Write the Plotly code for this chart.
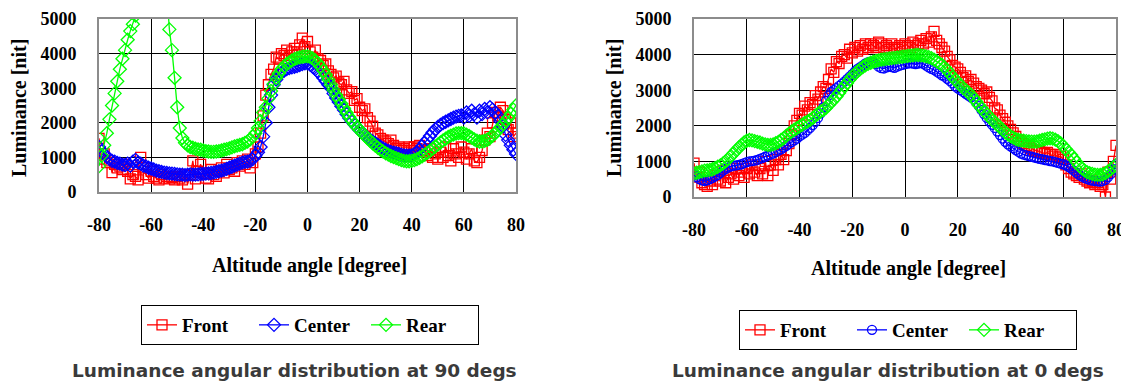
import plotly.graph_objects as go

# ---------------- data ----------------
ANGLES = list(range(-80, 81))
X_TICKS = [-80, -60, -40, -20, 0, 20, 40, 60, 80]
X_TICK_TEXT = ["-80", "-60", "-40", "-20", "0", "20", "40", "60", "80"]
Y_TICKS = [0, 1000, 2000, 3000, 4000, 5000]
SERIES = ["Front", "Center", "Rear"]
TITLES = ["Luminance angular distribution at 90 degs",
          "Luminance angular distribution at 0 degs"]
X_TITLE = "Altitude angle [degree]"
Y_TITLE = "Luminance [nit]"

FRONT_90 = [
    1550, 950, 1100, 850, 900, 560, 800, 700, 750, 650,
    800, 600, 380, 500, 450, 350, 1000, 700, 500, 400,
    600, 450, 400, 350, 500, 400, 450, 380, 420, 350,
    450, 400, 350, 500, 230, 480, 900, 380, 600, 800,
    550, 400, 380, 650, 500, 450, 600, 700, 550, 800,
    650, 700, 600, 850, 750, 900, 800, 950, 700, 850,
    1100, 1300, 1700, 2200, 2800, 3100, 3400, 3550, 3900, 3850,
    4000, 3950, 4100, 3950, 4050, 4150, 4050, 4250, 4450, 4200,
    4350, 4050, 3900, 4100, 3850, 3800, 3650, 3700, 3500, 3400,
    3300, 3350, 3150, 3100, 3200, 2950, 2850, 2900, 2650, 2700,
    2450, 2350, 2400, 2150, 2050, 1900, 1700, 1650, 1550, 1500,
    1450, 1400, 1500, 1350, 1250, 1300, 1200, 1250, 1150, 1300,
    1200, 1300, 1250, 1350, 1150, 1200, 1050, 1250, 1000, 1100,
    950, 1150, 1000, 1300, 1050, 900, 1250, 1100, 1000, 1300,
    1150, 950, 1100, 1250, 900, 850, 1000, 1200, 1500, 1700,
    1600, 2000, 2300, 2200, 2450, 2350, 2100, 1800, 2000, 1600,
    1700,
]
CENTER_90 = [
    1300, 1180, 1100, 1020, 950, 900, 880, 840, 820, 790,
    780, 820, 760, 880, 930, 850, 820, 760, 740, 700,
    680, 650, 620, 600, 580, 560, 550, 540, 530, 520,
    510, 500, 500, 490, 500, 510, 500, 500, 510, 520,
    520, 530, 540, 550, 560, 580, 600, 620, 640, 670,
    700, 730, 760, 790, 820, 850, 870, 880, 900, 950,
    1050, 1150, 1300, 1600, 2000, 2450, 2800, 3100, 3250, 3380,
    3450, 3500, 3550, 3580, 3600, 3620, 3640, 3670, 3700, 3720,
    3720, 3680, 3620, 3550, 3480, 3400, 3300, 3200, 3100, 3000,
    2850, 2720, 2600, 2480, 2370, 2250, 2140, 2040, 1950, 1870,
    1790, 1710, 1640, 1570, 1510, 1460, 1410, 1360, 1310, 1260,
    1220, 1190, 1160, 1140, 1120, 1100, 1080, 1060, 1050, 1050,
    1060, 1090, 1150, 1230, 1320, 1420, 1520, 1620, 1720, 1810,
    1880, 1940, 1990, 2030, 2070, 2110, 2150, 2180, 2200, 2210,
    2150, 2300, 2200, 2350, 2250, 2150, 2350, 2250, 2400, 2300,
    2450, 2380, 2300, 2200, 2050, 1900, 1650, 1500, 1350, 1220,
    1100,
]
REAR_90 = [
    750, 1050, 1350, 1700, 2100, 2500, 2850, 3200, 3550, 3850,
    4100, 4400, 4650, 4850, 5100, 6000, 7000, 8000, 9000, 9800,
    10300, 10500, 10000, 9000, 8000, 7000, 5800, 4700, 4100, 3300,
    2450, 1850, 1560, 1420, 1350, 1300, 1280, 1250, 1230, 1220,
    1200, 1180, 1170, 1160, 1160, 1170, 1180, 1200, 1220, 1240,
    1260, 1290, 1320, 1340, 1360, 1380, 1420, 1460, 1520, 1600,
    1700, 1850, 2050, 2300, 2450, 2700, 2920, 3120, 3300, 3430,
    3550, 3630, 3700, 3750, 3800, 3840, 3870, 3890, 3910, 3920,
    3920, 3900, 3860, 3800, 3720, 3620, 3510, 3390, 3250, 3100,
    2950, 2800, 2680, 2550, 2420, 2290, 2170, 2060, 1960, 1870,
    1790, 1710, 1630, 1550, 1480, 1410, 1340, 1280, 1220, 1170,
    1120, 1080, 1040, 1010, 980, 950, 920, 900, 890, 890,
    900, 920, 950, 990, 1030, 1080, 1130, 1190, 1250, 1310,
    1370, 1430, 1490, 1540, 1590, 1630, 1660, 1690, 1700, 1700,
    1690, 1660, 1620, 1570, 1520, 1480, 1460, 1460, 1480, 1510,
    1560, 1620, 1700, 1780, 1870, 1960, 2050, 2140, 2260, 2380,
    2500,
]

FRONT_0 = [
    950, 560, 700, 400, 350, 300, 450, 350, 600, 500,
    450, 750, 400, 550, 650, 500, 800, 600, 700, 550,
    800, 650, 900, 700, 600, 800, 650, 1000, 600, 900,
    750, 1050, 900, 1200, 1050, 1300, 1500, 1750, 2000, 2150,
    2350, 2300, 2550, 2450, 2650, 2600, 2850, 2750, 2950, 3100,
    3050, 3300, 3600, 3500, 3800, 3750, 3950, 4000, 3900, 4150,
    4050, 4200, 4100, 4250, 4150, 4300, 4200, 4300, 4250, 4200,
    4350, 4300, 4200, 4250, 4150, 4300, 4200, 4150, 4250, 4200,
    4300, 4250, 4200, 4350, 4250, 4300, 4400, 4300, 4450, 4350,
    4500, 4650, 4400, 4300, 4200, 4100, 3950, 3850, 3700, 3650,
    3600, 3500, 3350, 3400, 3250, 3300, 3200, 3100, 3050, 3000,
    2900, 2950, 2800, 2700, 2500, 2450, 2300, 2200, 2100, 2000,
    1900, 1800, 1700, 1600, 1550, 1500, 1450, 1400, 1350, 1320,
    1300, 1280, 1250, 1220, 1250, 1200, 1150, 1200, 1100, 1150,
    1050, 900, 800, 700, 650, 600, 550, 650, 500, 450,
    400, 450, 350, 400, 300, 350, 0, 700, 500, 1000,
    1450,
]
CENTER_0 = [
    620, 560, 500, 470, 450, 470, 500, 540, 580, 620,
    680, 740, 790, 830, 860, 880, 890, 900, 920, 950,
    980, 1000, 1010, 1020, 1040, 1070, 1100, 1130, 1160, 1190,
    1220, 1260, 1300, 1340, 1390, 1440, 1490, 1540, 1590, 1640,
    1700, 1750, 1800, 1870, 1940, 2020, 2110, 2220, 2350, 2520,
    2700, 2850, 2950, 3000, 3060, 3120, 3180, 3240, 3310, 3380,
    3450, 3530, 3600, 3650, 3700, 3750, 3790, 3800, 3780, 3730,
    3660, 3620, 3610, 3640, 3670, 3650, 3630, 3660, 3690, 3710,
    3730, 3750, 3760, 3750, 3730, 3750, 3770, 3740, 3690, 3640,
    3600, 3570, 3520, 3470, 3420, 3380, 3320, 3260, 3190, 3110,
    3050, 3000, 2950, 2900, 2850, 2800, 2750, 2650, 2550, 2440,
    2330, 2220, 2120, 2030, 1940, 1840, 1740, 1640, 1550, 1480,
    1420, 1370, 1320, 1270, 1220, 1190, 1170, 1150, 1130, 1110,
    1090, 1070, 1060, 1040, 1030, 1010, 1000, 980, 960, 940,
    920, 890, 850, 800, 740, 680, 620, 580, 540, 510,
    480, 460, 450, 440, 430, 450, 480, 560, 640, 780,
    920,
]
REAR_0 = [
    665, 680, 700, 720, 740, 750, 760, 780, 810, 850,
    890, 940, 1000, 1070, 1150, 1230, 1310, 1390, 1460, 1530,
    1580, 1600, 1590, 1570, 1550, 1530, 1500, 1480, 1460, 1460,
    1480, 1510, 1550, 1600, 1650, 1720, 1780, 1840, 1890, 1930,
    1980, 2030, 2080, 2120, 2160, 2220, 2280, 2340, 2400, 2440,
    2500, 2580, 2660, 2740, 2820, 2920, 3020, 3110, 3200, 3300,
    3390, 3460, 3530, 3590, 3650, 3700, 3740, 3770, 3800, 3820,
    3840, 3860, 3870, 3880, 3890, 3900, 3910, 3920, 3930, 3940,
    3950, 3960, 3970, 3980, 3990, 3990, 3980, 3970, 3950, 3930,
    3900, 3860, 3810, 3760, 3710, 3640, 3560, 3470, 3380, 3300,
    3220, 3140, 3070, 3000, 2940, 2870, 2780, 2680, 2580, 2500,
    2410, 2330, 2250, 2170, 2100, 2030, 1960, 1890, 1820, 1760,
    1710, 1670, 1630, 1600, 1590, 1580, 1570, 1560, 1555, 1555,
    1560, 1580, 1600, 1620, 1640, 1650, 1640, 1610, 1570, 1510,
    1430, 1340, 1260, 1180, 1080, 980, 880, 810, 750, 700,
    670, 650, 630, 620, 620, 640, 670, 720, 780, 840,
    900,
]

# ---------------- styling ----------------
# The page body has an 8px default margin, so the figure is drawn 8px in
# from the window's top-left corner; screen positions are shifted by OFF.
SCREEN_W, SCREEN_H = 1129, 383
OFF = 8
W, H = SCREEN_W - OFF, SCREEN_H - OFF
COLORS = ["#FF0000", "#0000FF", "#00FF00"]
SERIF = "Liberation Serif"
SANS = "DejaVu Sans"


def fx(px):
    return (px - OFF) / W


def fy(py):
    return 1 - (py - OFF) / H


panels = [
    dict(data=[FRONT_90, CENTER_90, REAR_90],
         symbols=["square-open", "diamond-open", "diamond-open"],
         sizes=[10, 10, 10],
         px=(99, 516), py=(19, 192), xa="x", ya="y", legend="legend"),
    dict(data=[FRONT_0, CENTER_0, REAR_0],
         symbols=["square-open", "circle-open", "diamond-open"],
         sizes=[10, 9, 10],
         px=(694, 1116), py=(19, 197), xa="x2", ya="y2", legend="legend2"),
]

fig = go.Figure()
for p in panels:
    for name, vals, col, sym, sz in zip(SERIES, p["data"], COLORS, p["symbols"], p["sizes"]):
        fig.add_trace(go.Scatter(
            x=ANGLES, y=vals, name=name, mode="lines+markers",
            line=dict(color=col, width=1.3),
            marker=dict(symbol=sym, size=sz, color=col, line=dict(color=col, width=1.3)),
            xaxis=p["xa"], yaxis=p["ya"], legend=p["legend"], cliponaxis=True,
        ))

axis_common = dict(showgrid=True, gridcolor="#000000", gridwidth=1,
                   showline=True, mirror=True, linecolor="#8c8c8c", linewidth=2,
                   zeroline=False, ticks="", automargin=False,
                   tickfont=dict(family=SERIF, size=18, color="black", weight="bold"))

layout = dict(width=W, height=H, margin=dict(l=0, r=0, t=0, b=0, autoexpand=False),
              paper_bgcolor="white", plot_bgcolor="white", annotations=[])

for i, p in enumerate(panels):
    sfx = "" if i == 0 else "2"
    layout["xaxis" + sfx] = dict(axis_common, domain=[fx(p["px"][0]), fx(p["px"][1])],
                                 anchor="y" + sfx, range=[-80, 80], tickvals=X_TICKS,
                                 ticktext=X_TICK_TEXT, ticklabelstandoff=15)
    layout["yaxis" + sfx] = dict(axis_common, domain=[fy(p["py"][1]), fy(p["py"][0])],
                                 anchor="x" + sfx, range=[0, 5000], tickvals=Y_TICKS,
                                 ticklabelstandoff=17)

# axis titles and chart titles
for xc, yc in ((309, 265), (908, 268)):
    layout["annotations"].append(dict(text=X_TITLE, x=fx(xc), y=fy(yc),
                                      xref="paper", yref="paper", showarrow=False,
                                      xanchor="center", yanchor="middle",
                                      font=dict(family=SERIF, size=20, color="black", weight="bold")))
for xc in (19, 614):
    layout["annotations"].append(dict(text=Y_TITLE, x=fx(xc), y=fy(108), textangle=-90,
                                      xref="paper", yref="paper", showarrow=False,
                                      xanchor="center", yanchor="middle",
                                      font=dict(family=SERIF, size=20, color="black", weight="bold")))
for t, xc in zip(TITLES, (294, 888)):
    layout["annotations"].append(dict(text=t, x=fx(xc), y=fy(370),
                                      xref="paper", yref="paper", showarrow=False,
                                      xanchor="center", yanchor="middle",
                                      font=dict(family=SANS, size=18.5, color="#3a3a3a", weight="bold")))

leg_common = dict(orientation="h", xanchor="left", yanchor="top", bgcolor="white",
                  bordercolor="black", borderwidth=1, entrywidth=67,
                  font=dict(family=SERIF, size=19, color="black", weight="bold"))
layout["legend"] = dict(leg_common, x=fx(141), y=fy(305))
layout["legend2"] = dict(leg_common, x=fx(739), y=fy(310))

fig.update_layout(**layout)
fig.write_html("out.html")
